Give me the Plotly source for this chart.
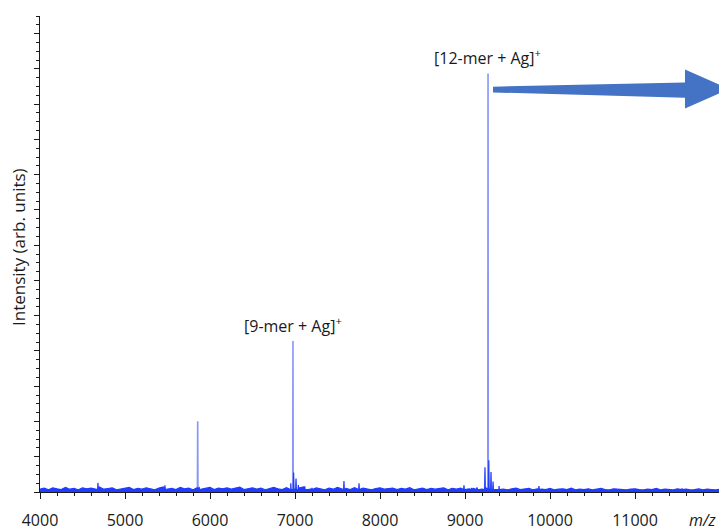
import plotly.graph_objects as go

# ---- data ----
baseline_start, baseline_stop, baseline_step = 4000, 12000, 50
baseline_int = [
    0.08,0.11,0.06,0.12,0.09,0.07,0.13,0.08,0.10,0.06,
    0.12,0.09,0.11,0.07,0.14,0.08,0.10,0.12,0.06,0.09,
    0.11,0.13,0.07,0.10,0.08,0.12,0.09,0.06,0.11,0.14,
    0.08,0.10,0.07,0.13,0.09,0.11,0.06,0.12,0.08,0.10,
    0.13,0.07,0.11,0.09,0.12,0.08,0.10,0.14,0.07,0.09,
    0.12,0.08,0.11,0.06,0.10,0.13,0.09,0.07,0.12,0.10,
    0.08,0.11,0.14,0.07,0.09,0.12,0.10,0.06,0.11,0.08,
    0.13,0.09,0.10,0.07,0.12,0.08,0.11,0.09,0.06,0.10,
    0.12,0.08,0.09,0.11,0.07,0.10,0.08,0.12,0.06,0.09,
    0.11,0.07,0.10,0.08,0.09,0.12,0.06,0.10,0.08,0.11,
    0.07,0.09,0.10,0.06,0.08,0.11,0.09,0.07,0.10,0.08,
    0.06,0.09,0.11,0.07,0.08,0.10,0.06,0.09,0.08,0.07,
    0.10,0.06,0.08,0.09,0.07,0.11,0.06,0.08,0.07,0.09,
    0.06,0.08,0.10,0.07,0.06,0.09,0.08,0.07,0.06,0.08,
    0.09,0.07,0.06,0.08,0.07,0.10,0.06,0.08,0.07,0.06,
    0.09,0.07,0.08,0.06,0.07,0.09,0.06,0.08,0.07,0.06,
    0.08,
]
baseline_mz = list(range(baseline_start, baseline_stop + 1, baseline_step))

# minor peaks / satellites
peak_mz = [4682, 5470, 5872, 6950, 6984, 7012, 7040, 7115, 7200,
           7576, 7753, 8988, 9080, 9140, 9235, 9280, 9306, 9330, 9400,
           9870, 11553]
peak_int = [0.26, 0.19, 0.15, 0.25, 0.55, 0.38, 0.20, 0.16, 0.12,
            0.31, 0.25, 0.19, 0.12, 0.13, 0.70, 0.9, 0.57, 0.30, 0.17,
            0.17, 0.10]

# major peaks
major_mz = [5855, 6976, 9271]
major_int = [2.01, 4.28, 11.87]

label_text = ["[9-mer + Ag]<sup>+</sup>", "[12-mer + Ag]<sup>+</sup>"]
label_mz = [6975, 9262]
label_y = [4.75, 12.35]

x_tick_vals = [4000, 5000, 6000, 7000, 8000, 9000, 10000, 11000]
x_tick_text = ["4000", "5000", "6000", "7000", "8000", "9000", "10000", "11000"]

# ---- build spectrum traces ----
pts = list(zip(baseline_mz, baseline_int))
for m, h in zip(peak_mz, peak_int):
    pts += [(m - 4, 0.07), (m, h), (m + 4, 0.07)]
pts.sort(key=lambda p: p[0])
xs = [p[0] for p in pts]
ys = [p[1] for p in pts]

mx, my = [], []
for m, h in zip(major_mz, major_int):
    mx += [m - 3, m, m + 3, None]
    my += [0.07, h, 0.07, None]

BLUE = "#1f3cff"
PEAK_LINE = "#8a95f7"
FONT = "Open Sans"
TXT = "#1a1a1a"

fig = go.Figure()
fig.add_trace(go.Scatter(
    x=mx, y=my, mode="lines",
    line=dict(color=PEAK_LINE, width=1.6),
    hoverinfo="skip", showlegend=False,
))
fig.add_trace(go.Scatter(
    x=xs, y=ys, mode="lines",
    line=dict(color=BLUE, width=1.2),
    fill="tozeroy", fillcolor=BLUE,
    hoverinfo="skip", showlegend=False,
))

W, H = 719, 531
L, R, T, B = 40, 0, 16, 39
pw, ph = W - L - R, H - T - B

def px(x):
    return (x - L) / pw

def py(y):
    return (H - B - y) / ph

for t, m, yv in zip(label_text, label_mz, label_y):
    fig.add_annotation(x=m, y=yv, text=t, showarrow=False,
                       font=dict(family=FONT, size=16, color=TXT),
                       xanchor="center", yanchor="middle")

fig.add_annotation(xref="paper", yref="paper", x=px(18), y=py(247),
                   text="Intensity (arb. units)", textangle=-90, showarrow=False,
                   font=dict(family=FONT, size=17, color=TXT),
                   xanchor="center", yanchor="middle")
fig.add_annotation(xref="paper", yref="paper", x=px(703), y=py(520),
                   text="<i>m/z</i>", showarrow=False,
                   font=dict(family=FONT, size=16, color=TXT),
                   xanchor="center", yanchor="middle")

# big arrow (pixel-based path in paper coordinates)
arrow_px = [(493, 86.7), (685, 82.5), (685, 69.5), (729, 89), (685, 108.5),
            (685, 97.8), (493, 92.4)]
path = "M " + " L ".join(f"{px(a):.5f},{py(b):.5f}" for a, b in arrow_px) + " Z"
fig.add_shape(type="path", xref="paper", yref="paper", path=path,
              fillcolor="#4472C4", line=dict(width=0), layer="above")

fig.update_layout(
    template="none",
    width=W, height=H,
    margin=dict(l=L, r=R, t=T, b=B, pad=0, autoexpand=False),
    plot_bgcolor="white", paper_bgcolor="white",
    font=dict(family=FONT, size=16, color=TXT),
    xaxis=dict(
        range=[4000, 4000 + pw / 85 * 1000], tickvals=x_tick_vals, ticktext=x_tick_text,
        ticks="outside", ticklen=6, tickwidth=1, tickcolor=TXT,
        showline=True, linecolor=TXT, linewidth=1.2, showgrid=False,
        zeroline=False, ticklabelstandoff=8, automargin=False,
        tickfont=dict(family=FONT, size=16, color=TXT),
        minor=dict(dtick=200, ticks="outside", ticklen=3, tickcolor=TXT, showgrid=False),
    ),
    yaxis=dict(
        range=[0, 13.5], dtick=1, showticklabels=False,
        ticks="outside", ticklen=5, tickwidth=1, tickcolor=TXT,
        showline=True, linecolor=TXT, linewidth=1.2, showgrid=False,
        zeroline=False, automargin=False,
        minor=dict(dtick=0.25, ticks="outside", ticklen=3, tickcolor=TXT, showgrid=False),
    ),
)

fig.write_html(
    "out.html",
    config={"displayModeBar": False},
    post_script="document.body.style.margin='0px';document.body.style.padding='0px';"
                "document.body.style.overflow='hidden';",
)
